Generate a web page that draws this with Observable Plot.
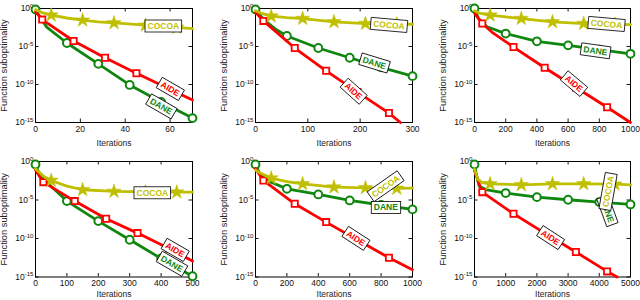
<!DOCTYPE html>
<html><head><meta charset="utf-8">
<script src="https://cdn.jsdelivr.net/npm/d3@7"></script>
<script src="https://cdn.jsdelivr.net/npm/@observablehq/plot@0.6"></script>
<style>
html,body{margin:0;padding:0;background:#fff;}
#chart{position:relative;width:640px;height:300px;overflow:hidden;background:#fff;}
.panel{position:absolute;}
</style></head><body><div id="chart"></div>
<script>
// ---- data: [iteration, log10(suboptimality), marker?] ----
const seriesNames = ["DANE", "AIDE", "COCOA"];
const yTicks = [1, 1e-5, 1e-10, 1e-15];

const p1XTicks = [0, 20, 40, 60];
const p1Cocoa = [[0,-0.15,0],[3,-0.55,0],[7,-0.88,1],[14,-1.25,0],[21,-1.54,1],[28,-1.75,0],[35,-1.9,1],[49,-2.2,1],[63,-2.48,1],[70,-2.65,0]];
const p1Aide  = [[0,-0.44,0],[3,-1.46,1],[17,-4.28,1],[31,-6.48,1],[45,-8.51,1],[59,-10.5,1],[70,-12.04,0]];
const p1Dane  = [[0,-0.13,1],[2,-1.1,0],[5,-2.45,0],[14,-4.54,1],[28,-7.28,1],[42,-10.06,1],[56,-12.3,1],[70,-14.42,1]];
const p1Labels = [["COCOA",57,-2.34,0],["AIDE",60,-10.6,30],["DANE",56,-12.9,30]];

const p2XTicks = [0, 100, 200, 300];
const p2Cocoa = [[0,-0.3,0],[10,-0.6,0],[30,-1.01,1],[60,-1.2,0],[90,-1.32,1],[150,-1.76,1],[210,-1.99,1],[270,-2.05,1],[300,-2.07,0]];
const p2Aide  = [[0,-0.5,0],[15,-1.63,1],[75,-5.2,1],[135,-8.2,1],[195,-11.0,1],[255,-13.76,1],[277,-15,0]];
const p2Dane  = [[0,-0.13,1],[10,-1.0,0],[20,-1.7,0],[40,-2.8,0],[60,-3.62,1],[120,-5.2,1],[180,-6.48,1],[240,-7.75,1],[300,-8.9,1]];
const p2Labels = [["COCOA",255,-2.2,5],["DANE",227,-7.2,17],["AIDE",187,-10.9,42]];

const p3XTicks = [0, 200, 400, 600, 800, 1000];
const p3Cocoa = [[0,-0.3,0],[30,-0.6,0],[100,-0.88,1],[200,-1.1,0],[300,-1.32,1],[500,-1.76,1],[700,-1.99,1],[900,-2.08,1],[1000,-2.12,0]];
const p3Aide  = [[0,-0.6,0],[50,-1.98,1],[120,-3.25,0],[250,-5.07,1],[450,-7.8,1],[650,-10.4,1],[850,-13.0,1],[1000,-15,0]];
const p3Dane  = [[0,0,1],[25,-1.3,0],[80,-2.4,0],[200,-3.3,1],[400,-4.32,1],[600,-4.85,1],[800,-5.4,1],[1000,-5.96,1]];
const p3Labels = [["COCOA",846,-2.07,5],["DANE",775,-5.6,8],["AIDE",636,-9.9,40]];

const p4XTicks = [0, 100, 200, 300, 400, 500];
const p4Cocoa = [[0,-0.95,0],[25,-1.9,0],[50,-2.46,1],[100,-3.2,0],[150,-3.67,1],[250,-3.89,1],[350,-3.95,1],[450,-3.98,1],[500,-3.98,0]];
const p4Aide  = [[0,-1.1,0],[25,-2.68,1],[125,-5.14,1],[225,-7.44,1],[325,-9.3,1],[425,-11.3,1],[500,-12.93,0]];
const p4Dane  = [[0,-0.39,1],[15,-1.9,0],[100,-5.14,1],[200,-7.74,1],[300,-10.16,1],[400,-12.6,1],[500,-14.9,1]];
const p4Labels = [["COCOA",372,-4.1,0],["AIDE",444,-11.5,30],["DANE",434,-13.3,30]];

const p5XTicks = [0, 200, 400, 600, 800, 1000];
const p5Cocoa = [[0,-1.1,0],[30,-1.5,0],[100,-2.16,1],[200,-2.6,0],[300,-2.9,1],[500,-3.33,1],[700,-3.42,1],[900,-3.5,1],[1000,-3.46,0]];
const p5Aide  = [[0,-0.9,0],[50,-2.46,1],[250,-5.49,1],[450,-7.87,1],[650,-10.2,1],[850,-12.5,1],[1000,-14.05,0]];
const p5Dane  = [[0,-0.39,1],[25,-1.5,0],[100,-2.7,0],[200,-3.55,1],[400,-4.28,1],[600,-5.06,1],[800,-5.65,1],[1000,-6.22,1]];
const p5Labels = [["COCOA",830,-3.24,-35],["DANE",830,-6.0,0],["AIDE",638,-10.0,33]];

const p6XTicks = [0, 1000, 2000, 3000, 4000, 5000];
const p6Cocoa = [[0,-1.0,0],[100,-2.3,0],[250,-2.75,0],[500,-2.9,1],[1500,-3.03,1],[2500,-2.9,1],[3500,-2.9,1],[4500,-2.95,1],[5000,-3.03,0]];
const p6Aide  = [[0,-1.2,0],[250,-3.98,1],[1250,-6.79,1],[2250,-9.3,1],[3250,-11.76,1],[4250,-14.27,1],[4572,-15,0]];
const p6Dane  = [[0,-0.39,1],[50,-1.5,0],[150,-3.2,0],[400,-3.7,0],[1000,-4.1,1],[2000,-4.63,1],[3000,-4.97,1],[4000,-5.27,1],[5000,-5.58,1]];
const p6Labels = [["AIDE",2430,-9.9,33],["DANE",4250,-6.4,70],["COCOA",4290,-3.9,-80]];

const panels = [
  {xDomain:[0,70],   xTicks:p1XTicks, COCOA:p1Cocoa, AIDE:p1Aide, DANE:p1Dane, labels:p1Labels},
  {xDomain:[0,300],  xTicks:p2XTicks, COCOA:p2Cocoa, AIDE:p2Aide, DANE:p2Dane, labels:p2Labels},
  {xDomain:[0,1000], xTicks:p3XTicks, COCOA:p3Cocoa, AIDE:p3Aide, DANE:p3Dane, labels:p3Labels},
  {xDomain:[0,500],  xTicks:p4XTicks, COCOA:p4Cocoa, AIDE:p4Aide, DANE:p4Dane, labels:p4Labels},
  {xDomain:[0,1000], xTicks:p5XTicks, COCOA:p5Cocoa, AIDE:p5Aide, DANE:p5Dane, labels:p5Labels},
  {xDomain:[0,5000], xTicks:p6XTicks, COCOA:p6Cocoa, AIDE:p6Aide, DANE:p6Dane, labels:p6Labels}
];

// ---- styling / layout ----
const FONT = "'Liberation Sans', Arial, Helvetica, sans-serif";
const colors = {COCOA:"#bfbf00", DANE:"#0f870f", AIDE:"#ff0000"};
const dotStyle = {
  COCOA:{symbol:"star",   r:4.5, fill:colors.COCOA, stroke:colors.COCOA, strokeWidth:0.5},
  DANE: {symbol:"circle", r:3.9, fill:"white", stroke:colors.DANE, strokeWidth:2},
  AIDE: {symbol:"square", r:3.5, fill:"white", stroke:colors.AIDE, strokeWidth:1.8}
};
const cols = [{left:0,width:213,mL:35,mR:21},{left:213,width:213,mL:42,mR:14},{left:426,width:214,mL:48,mR:10}];
const rows = [{top:0,height:150,mT:8,mB:28,labDy:21},{top:150,height:150,mT:11,mB:23.5,labDy:17.5}];
const NS = "http://www.w3.org/2000/svg";
const chart = document.getElementById("chart");

panels.forEach((p, i) => {
  const C = cols[i % 3], R = rows[Math.floor(i / 3)];
  const fw = C.width - C.mL - C.mR, fh = R.height - R.mT - R.mB;
  const T = 3.5;
  const marks = [
    Plot.ruleX(p.xTicks, {x:d=>d, insetTop: fh - T, stroke:"black", strokeWidth:0.9}),
    Plot.ruleX(p.xTicks, {x:d=>d, insetBottom: fh - T, stroke:"black", strokeWidth:0.9}),
    Plot.ruleY(yTicks, {y:d=>d, insetRight: fw - T, stroke:"black", strokeWidth:0.9}),
    Plot.ruleY(yTicks, {y:d=>d, insetLeft: fw - T, stroke:"black", strokeWidth:0.9}),
    Plot.frame({stroke:"black", strokeWidth:1}),
    Plot.axisX({ticks:p.xTicks, tickSize:0, tickPadding:3, tickFormat:d=>String(d), label:null, fontSize:8.5, fill:"#111"}),
    Plot.axisY({ticks:yTicks, tickSize:0, tickPadding:2, tickFormat:d=>"10^" + Math.round(Math.log10(d)), label:null, fontSize:8.5, fill:"#111"}),
    Plot.text(["Iterations"], {frameAnchor:"bottom", dy:R.labDy, lineAnchor:"middle", text:d=>d, fontSize:8.5, fill:"#222"}),
    Plot.text(["Function suboptimality"], {frameAnchor:"left", dx:-31, rotate:-90, textAnchor:"middle", lineAnchor:"middle", text:d=>d, fontSize:9.3, fill:"#222"})
  ];
  for (const s of seriesNames) {
    const data = p[s].map(([x, e, m]) => ({x, y: 10 ** e, m}));
    marks.push(Plot.line(data, {x:"x", y:"y", stroke:colors[s], strokeWidth:2.8, strokeLinejoin:"round"}));
    marks.push(Plot.dot(data.filter(d => d.m), {x:"x", y:"y", ...dotStyle[s]}));
  }
  for (const [name, x, e, rot] of p.labels) {
    marks.push(Plot.text([{name, x, y: 10 ** e}], {x:"x", y:"y", text:"name", rotate:rot, fill:colors[name],
      fontWeight:"bold", fontSize:8.5, textAnchor:"middle", lineAnchor:"middle"}));
  }
  const svg = Plot.plot({
    width:C.width, height:R.height,
    marginLeft:C.mL, marginRight:C.mR, marginTop:R.mT, marginBottom:R.mB,
    x:{domain:p.xDomain},
    y:{type:"log", domain:[1e-15, 1]},
    style:{fontFamily:FONT, fontSize:"8.5px", background:"transparent", overflow:"visible"},
    marks
  });
  const div = document.createElement("div");
  div.className = "panel";
  div.style.left = C.left + "px"; div.style.top = R.top + "px";
  div.style.width = C.width + "px"; div.style.height = R.height + "px";
  div.appendChild(svg);
  chart.appendChild(div);

  svg.querySelectorAll("text").forEach(t => {
    const s = t.textContent;
    if (s.startsWith("10^")) {
      // superscript exponents on y tick labels
      const exp = s.slice(3);
      t.textContent = "10";
      const ts = document.createElementNS(NS, "tspan");
      ts.setAttribute("dy", "-0.55em");
      ts.setAttribute("font-size", "0.72em");
      ts.textContent = exp;
      t.appendChild(ts);
    } else if (seriesNames.includes(s)) {
      // white framed box behind series labels
      const b = t.getBBox();
      const r = document.createElementNS(NS, "rect");
      r.setAttribute("x", b.x - 2.5); r.setAttribute("y", b.y - 1);
      r.setAttribute("width", b.width + 5); r.setAttribute("height", b.height + 2);
      const tr = t.getAttribute("transform"); if (tr) r.setAttribute("transform", tr);
      r.setAttribute("fill", "white"); r.setAttribute("stroke", "black"); r.setAttribute("stroke-width", "0.8");
      t.parentNode.insertBefore(r, t);
    }
  });
});
</script></body></html>
